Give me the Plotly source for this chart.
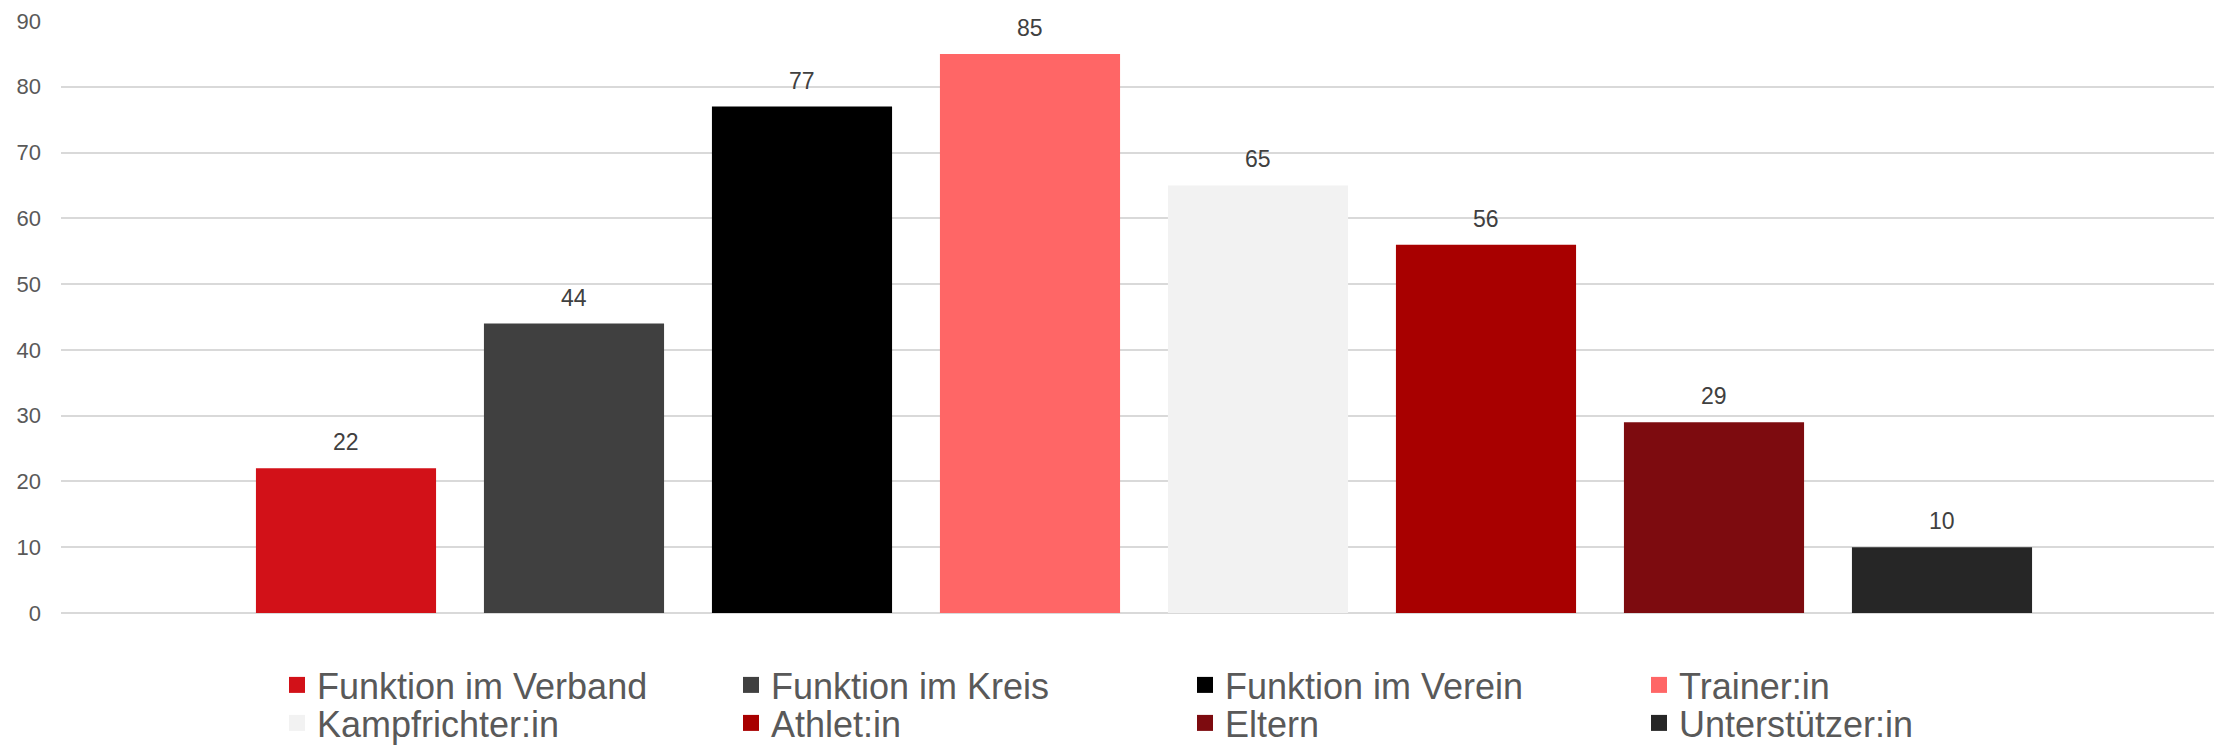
import plotly.graph_objects as go

categories = ["Funktion im Verband", "Funktion im Kreis", "Funktion im Verein", "Trainer:in",
              "Kampfrichter:in", "Athlet:in", "Eltern", "Unterstützer:in"]
values = [22, 44, 77, 85, 65, 56, 29, 10]
colors = ["#D21118", "#404040", "#000000", "#FF6666", "#F2F2F2", "#A80000", "#7D0B0F", "#262626"]
y_ticks = [0, 10, 20, 30, 40, 50, 60, 70, 80, 90]

FONT = "Liberation Sans, Arial, sans-serif"
W, H = 2214, 746

fig = go.Figure()
for i, (cat, val, col) in enumerate(zip(categories, values, colors)):
    fig.add_trace(go.Bar(
        x=[cat], y=[val], name=cat, marker=dict(color=col, line=dict(width=0)),
        width=0.79, hoverinfo="x+y", showlegend=False,
    ))
    # legend entry (square swatch), first 4 in row 1, last 4 in row 2
    fig.add_trace(go.Scatter(
        x=[None], y=[None], mode="markers", name=cat,
        marker=dict(symbol="square", size=16, color=col, line=dict(width=0)),
        legend="legend" if i < 4 else "legend2", hoverinfo="skip",
    ))
    fig.add_annotation(x=cat, y=val, text=str(val), showarrow=False,
                       yanchor="middle", yshift=26,
                       font=dict(family=FONT, size=23, color="#404040"))

legend_common = dict(
    orientation="h", xref="container", yref="container",
    x=277 / W, xanchor="left", yanchor="middle",
    font=dict(family=FONT, size=36, color="#595959"),
    entrywidth=409, entrywidthmode="pixels",
    itemclick=False, itemdoubleclick=False, bgcolor="rgba(0,0,0,0)",
    borderwidth=0,
)

fig.update_layout(
    width=W, height=H,
    margin=dict(l=61, r=0, t=21, b=133.3, pad=0, autoexpand=False),
    paper_bgcolor="white", plot_bgcolor="white",
    barmode="overlay",
    showlegend=True,
    legend=dict(y=1 - 685 / H, **legend_common),
    legend2=dict(y=1 - 723 / H, **legend_common),
    xaxis=dict(
        categoryorder="array", categoryarray=categories,
        range=[-1.25, 8.193], showticklabels=False, showgrid=False,
        zeroline=False, showline=False, ticks="", fixedrange=True, automargin=False,
    ),
    yaxis=dict(
        range=[0, 90], tickvals=y_ticks, ticktext=[str(t) for t in y_ticks],
        showgrid=True, gridcolor="#D9D9D9", gridwidth=1.5,
        zeroline=True, zerolinecolor="#D9D9D9", zerolinewidth=1.5,
        showline=False, ticks="", ticklabelstandoff=19, automargin=False,
        tickfont=dict(family=FONT, size=22, color="#595959"), fixedrange=True,
    ),
)

fig.write_html(
    "out.html",
    config={"displayModeBar": False},
    post_script="document.body.style.margin='0';document.body.style.overflow='hidden';",
)
